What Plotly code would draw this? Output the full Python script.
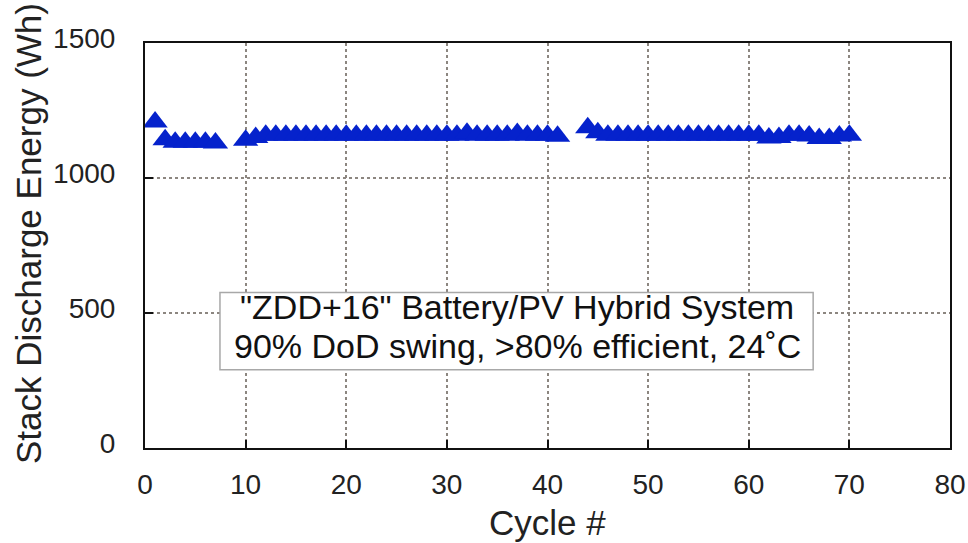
import plotly.graph_objects as go

# Discharge energy per cycle, three test runs
cycles_a = [1, 2, 3, 4, 5, 6, 7]
energy_a = [1207, 1142, 1132, 1132, 1132, 1132, 1130]

cycles_b = list(range(10, 42))
energy_b = [1140, 1150, 1158, 1158, 1158, 1158, 1158, 1158, 1158, 1158,
            1158, 1158, 1158, 1158, 1158, 1158, 1158, 1158, 1158, 1158,
            1158, 1158, 1166, 1158, 1158, 1158, 1158, 1165, 1158, 1158,
            1158, 1155]

cycles_c = list(range(44, 71))
energy_c = [1186, 1168, 1158, 1158, 1158, 1158, 1158, 1158, 1158, 1158,
            1158, 1158, 1158, 1158, 1158, 1158, 1158, 1158, 1148, 1150,
            1158, 1158, 1156, 1146, 1146, 1156, 1158]

x_ticks = [0, 10, 20, 30, 40, 50, 60, 70, 80]
y_ticks = [0, 500, 1000, 1500]

note_lines = ['"ZDD+16" Battery/PV Hybrid System',
              "90% DoD swing, >80% efficient, 24˚C"]

FONT = "Liberation Sans, Arial, Helvetica, sans-serif"
BLUE = "#0522cc"

cycles = cycles_a + [None] + cycles_b + [None] + cycles_c
energy = energy_a + [None] + energy_b + [None] + energy_c

fig = go.Figure()
fig.add_trace(go.Scatter(
    x=cycles, y=energy, mode="markers",
    marker=dict(symbol="triangle-up", size=22, color=BLUE,
                line=dict(width=0)),
    cliponaxis=True, showlegend=False,
))

# Caption box
fig.add_shape(type="rect", xref="x", yref="y", x0=7.45, x1=66.4, y0=290, y1=576,
              fillcolor="white", line=dict(color="#a8a8a8", width=1.5), layer="above")
fig.add_annotation(x=37.0, y=524, xref="x", yref="y", text=note_lines[0],
                   showarrow=False, font=dict(family=FONT, size=34, color="#111"))
fig.add_annotation(x=37.0, y=376, xref="x", yref="y", text=note_lines[1],
                   showarrow=False, font=dict(family=FONT, size=34, color="#111"))

# Axis titles
fig.add_annotation(x=-0.145, y=-0.045, xref="paper", yref="paper",
                   xanchor="center", yanchor="bottom", textangle=-90,
                   text="Stack Discharge Energy (Wh)", showarrow=False,
                   font=dict(family=FONT, size=35, color="#222"))
fig.add_annotation(x=0.5, y=-0.185, xref="paper", yref="paper",
                   xanchor="center", yanchor="middle",
                   text="Cycle #", showarrow=False,
                   font=dict(family=FONT, size=35, color="#222"))

axis_common = dict(
    automargin=False,
    showline=True, linecolor="#111", linewidth=2, mirror=True,
    ticks="inside", ticklen=8, tickwidth=2, tickcolor="#111",
    showgrid=True, gridcolor="#8c8680", gridwidth=1.5, griddash="dot",
    zeroline=False,
    tickfont=dict(family=FONT, size=28, color="#222"),
)

fig.update_xaxes(range=[0, 80], tickvals=x_ticks, ticklabelstandoff=10,
                 **axis_common)
fig.update_yaxes(range=[0, 1500], tickvals=y_ticks, ticklabelstandoff=22,
                 ticklabelshift=-5, **axis_common)

fig.update_layout(
    width=968, height=543,
    margin=dict(l=145, r=18, t=43, b=95),
    paper_bgcolor="white", plot_bgcolor="white",
    font=dict(family=FONT),
)

fig.write_html("out.html")
